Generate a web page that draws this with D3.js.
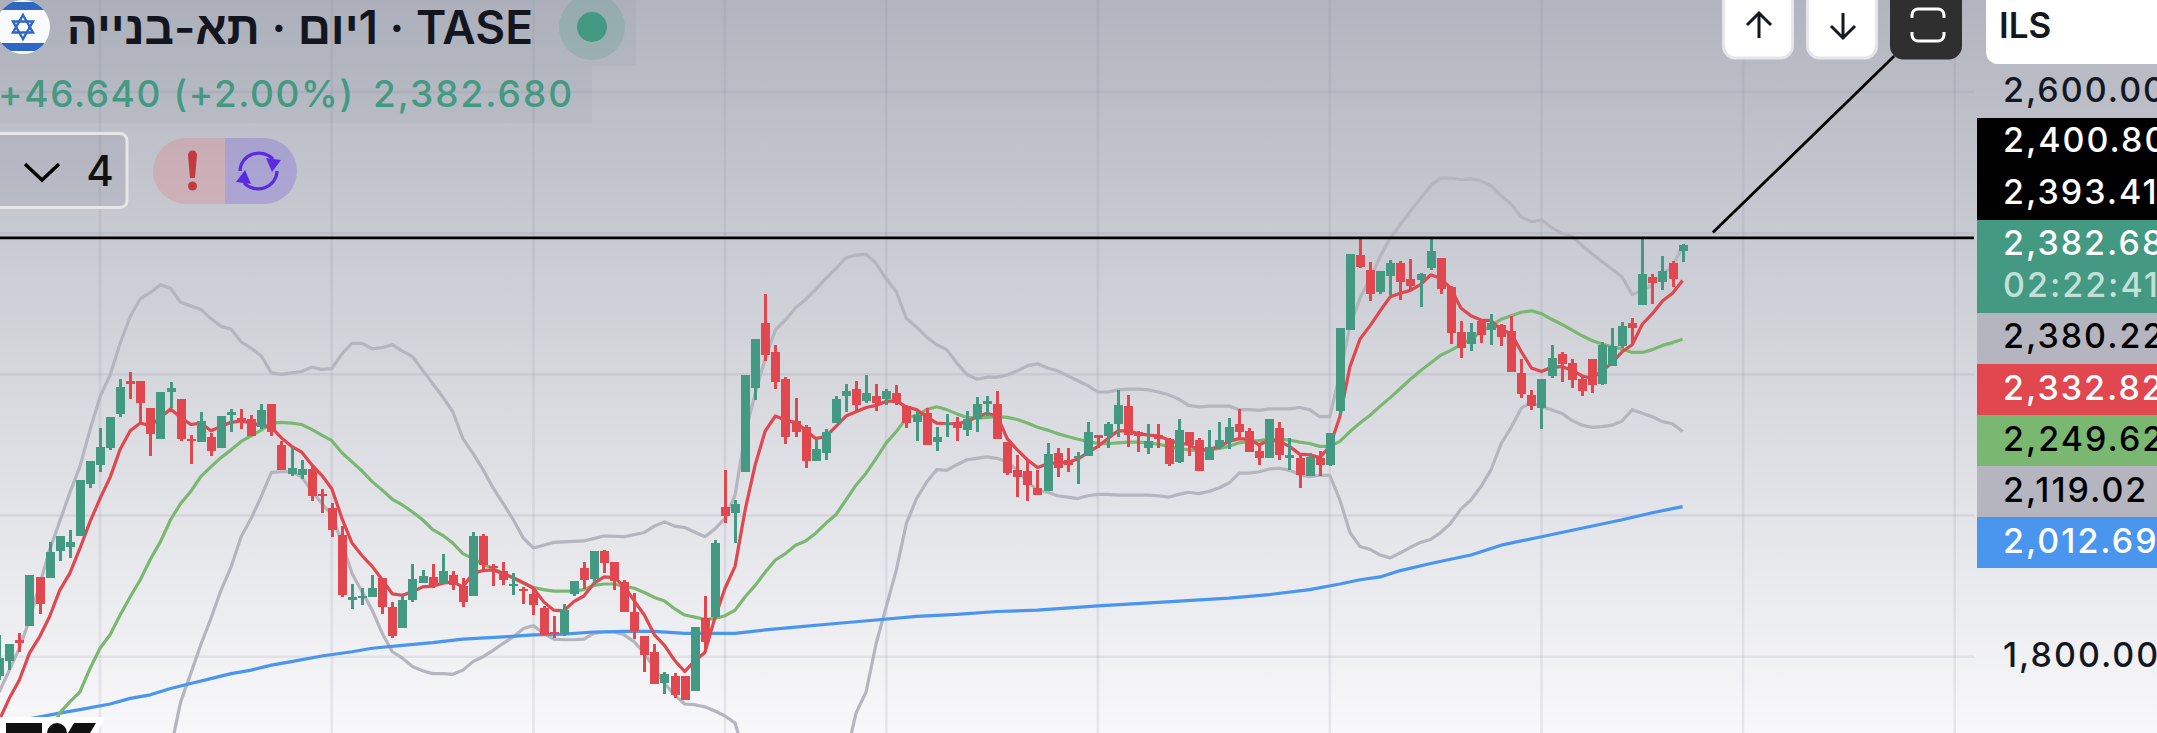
<!DOCTYPE html>
<html>
<head>
<meta charset="utf-8">
<title>TASE</title>
<script src="https://cdn.jsdelivr.net/npm/d3@7"></script>
<style>
    html, body { margin: 0; padding: 0; overflow: hidden; background: #f8f8fa; }
    svg { display: block; }
    text { font-family: Inter, "Liberation Sans", sans-serif; }
</style>
</head>
<body>
<svg id="chart"></svg>
<script>
// Daily candles (oldest first)
const opens = [
    1772,1794,1824,1843,1913,1912,1950,1955,1971,2045,
    2071,2095,2144,2190,2190,2153,2108,2175,2165,2108,
    2104,2111,2095,2143,2138,2137,2126,2158,2100,2059,
    2058,2066,2031,2010,1972,1880,1883,1884,1911,1870,
    1840,1881,1905,1913,1903,1916,1900,1886,1971,1928,
    1922,1900,1896,1889,1869,1835,1832,1889,1926,1910,
    1950,1934,1906,1864,1830,1807,1763,1773,1772,1751,
    1855,1856,2012,2003,2062,2181,2273,2231,2193,2134,
    2126,2077,2088,2131,2169,2179,2162,2170,2165,2173,
    2155,2132,2145,2104,2128,2132,2121,2137,2158,2158,
    2104,2064,2063,2039,2035,2089,2079,2082,2085,2114,
    2112,2129,2155,2119,2096,2114,2109,2076,2119,2107,
    2078,2097,2104,2129,2120,2091,2082,2124,2082,2082,
    2056,2082,2071,2148,2263,2369,2348,2316,2340,2358,
    2335,2334,2350,2365,2324,2260,2243,2275,2263,2270,
    2262,2202,2171,2153,2197,2229,2216,2194,2222,2187,
    2212,2240,2273,2298,2338,2331,2358,2375
];
const highs = [
    1831,1818,1833,1916,1913,1963,1971,1980,2051,2077,
    2124,2139,2193,2204,2190,2153,2175,2189,2165,2114,
    2147,2117,2141,2151,2151,2142,2158,2158,2106,2097,
    2079,2070,2038,2018,1985,1903,1897,1916,1911,1878,
    1886,1932,1923,1932,1946,1921,1911,1977,1974,1932,
    1934,1918,1899,1896,1872,1858,1874,1907,1934,1950,
    1951,1934,1909,1890,1830,1818,1778,1777,1773,1842,
    1886,1965,2064,2022,2199,2250,2314,2241,2196,2166,
    2128,2108,2122,2169,2186,2190,2199,2187,2179,2185,
    2156,2148,2152,2126,2144,2139,2148,2168,2170,2176,
    2104,2086,2077,2064,2103,2095,2095,2090,2133,2114,
    2133,2178,2171,2120,2129,2130,2110,2137,2119,2110,
    2121,2133,2138,2151,2124,2101,2137,2133,2110,2086,
    2089,2091,2117,2265,2371,2393,2359,2347,2362,2361,
    2364,2344,2393,2365,2325,2276,2273,2277,2286,2272,
    2282,2222,2178,2194,2242,2232,2222,2199,2222,2246,
    2265,2274,2280,2395,2342,2367,2361,2385
];
const lows = [
    1767,1781,1807,1843,1861,1912,1936,1940,1971,2039,
    2062,2093,2140,2165,2133,2084,2108,2153,2106,2073,
    2104,2085,2095,2118,2123,2113,2123,2113,2065,2056,
    2052,2021,2004,1970,1884,1868,1873,1884,1861,1826,
    1840,1878,1905,1897,1903,1895,1871,1886,1923,1900,
    1902,1888,1875,1859,1831,1827,1829,1886,1896,1902,
    1919,1894,1863,1825,1778,1762,1747,1741,1738,1751,
    1807,1856,1990,1961,2062,2163,2219,2179,2101,2111,
    2068,2077,2078,2131,2146,2148,2160,2148,2156,2156,
    2124,2105,2100,2092,2111,2105,2112,2119,2141,2109,
    2057,2026,2020,2029,2035,2055,2061,2045,2085,2096,
    2095,2111,2097,2090,2087,2096,2070,2075,2085,2063,
    2078,2094,2094,2107,2090,2072,2082,2079,2065,2039,
    2056,2056,2070,2143,2263,2351,2304,2314,2313,2306,
    2320,2296,2348,2314,2243,2223,2233,2245,2242,2240,
    2204,2167,2150,2123,2195,2189,2181,2170,2174,2185,
    2212,2237,2242,2298,2300,2320,2324,2359
];
const closes = [
    1798,1818,1820,1916,1875,1948,1971,1962,2051,2077,
    2097,2139,2182,2187,2160,2115,2175,2180,2109,2105,
    2134,2092,2141,2147,2134,2113,2150,2118,2065,2067,
    2066,2028,2027,1979,1887,1885,1886,1897,1871,1829,
    1881,1910,1915,1900,1922,1901,1878,1971,1930,1926,
    1908,1903,1894,1873,1831,1832,1866,1907,1908,1950,
    1933,1907,1863,1837,1803,1762,1776,1746,1738,1842,
    1821,1961,2000,2017,2199,2250,2227,2189,2111,2119,
    2077,2094,2118,2165,2176,2156,2173,2159,2176,2159,
    2131,2142,2100,2111,2131,2124,2137,2158,2162,2109,
    2060,2054,2043,2029,2087,2068,2072,2085,2119,2110,
    2130,2157,2114,2113,2106,2109,2073,2121,2100,2063,
    2097,2107,2126,2119,2090,2082,2137,2086,2086,2058,
    2083,2072,2117,2265,2371,2352,2314,2347,2358,2331,
    2325,2342,2375,2321,2259,2238,2260,2256,2273,2253,
    2204,2172,2155,2194,2223,2215,2192,2177,2185,2242,
    2240,2269,2265,2342,2330,2347,2335,2382.68
];

// Red fast average, one value per candle
const fastAvg = [
    1710,1741,1767,1805,1828,1857,1894,1918,1953,1991,
    2024,2054,2094,2120,2131,2127,2139,2151,2139,2129,
    2131,2120,2126,2132,2134,2131,2128,2125,2110,2098,
    2090,2072,2057,2038,1996,1961,1943,1928,1909,1889,
    1887,1892,1899,1900,1904,1906,1899,1918,1922,1923,
    1918,1912,1905,1897,1878,1866,1865,1878,1886,1904,
    1913,1912,1900,1879,1859,1831,1816,1795,1779,1794,
    1806,1855,1897,1928,2008,2072,2120,2141,2135,2132,
    2121,2109,2112,2126,2141,2147,2153,2156,2162,2162,
    2154,2150,2140,2131,2130,2130,2133,2140,2145,2141,
    2109,2093,2079,2068,2073,2075,2075,2080,2089,2098,
    2109,2120,2120,2116,2114,2113,2107,2102,2101,2092,
    2094,2097,2105,2109,2108,2100,2107,2105,2098,2087,
    2086,2082,2098,2140,2211,2250,2269,2290,2310,2315,
    2319,2327,2341,2336,2322,2294,2283,2277,2276,2263,
    2258,2232,2209,2204,2210,2211,2206,2198,2194,2205,
    2216,2232,2242,2271,2286,2304,2315,2332.82
];

// Green average starts at candle 5
const midStart = 5;
const midAvg = [
    1691,1720,1736,1750,1783,1812,1831,1859,1885,1909,1938,1963,1994,2017,2034,
    2055,2069,2082,2093,2105,2113,2121,2131,2132,2131,2129,2122,2114,2106,2089,
    2076,2063,2048,2036,2023,
    2015,2005,1994,1980,1972,1961,1946,1939,1931,1925,1918,1911,1904,1898,1895,
    1893,1893,1893,1895,1901,1903,1903,1900,1897,1891,1884,1879,1868,1859,1856,
    1853,1854,1858,1866,1885,1901,1920,1937,1946,1958,
    1964,1975,1989,2001,2022,2043,2060,2081,2103,2119,2138,2142,2150,2154,2150,
    2144,2139,2138,2139,2140,2139,2136,2131,2125,
    2121,2116,2112,2108,2105,2102,2102,2103,2104,2104,2103,2101,2098,2095,2093,
    2092,2093,2095,2098,2103,2105,2106,2108,2108,2107,2104,2102,2098,
    2098,2105,2119,2131,2142,2155,2167,2180,2193,2205,2216,2227,2234,2242,2250,
    2260,2269,2278,2283,2288,2290,2286,2278,2271,2263,2255,2248,2243,2239,2236,
    2231,2231,2235,2241,2245,2249.62
];

// Blue long average, read at every few candles
const slowIdx = [3,6,8,11,13,15,17,19,21,23,25,27,29,32,35,37,40,43,46,50,53,56,59,62,65,68,71,73,76,79,83,87,91,95,99,103,109,115,122,126,130,133,135,137,139,142,146,149,153,157,161,164,167];
const slowVal = [1712,1720,1725,1733,1741,1746,1755,1762,1769,1776,1781,1788,1793,1801,1807,1812,1816,1820,1825,1828,1831,1832,1835,1836,1836,1833,1833,1833,1838,1842,1847,1852,1857,1860,1864,1866,1872,1877,1883,1888,1895,1903,1909,1913,1922,1932,1944,1958,1970,1982,1994,2004,2012.69];

// Grey bands
const upperIdx = [0,2,3,5,7,8,9,10,11,12,13,14,15,16,17,18,19,20,21,22,23,24,25,26,27,28,29,30,31,32,33,34,35,36,37,38,39,40,41,42,43,44,45,46,47,48,49,50,51,52,53,54,55,58,60,62,64,65,66,67,68,70,71,72,73,74,75,76,77,78,79,80,81,82,83,84,85,86,87,88,89,90,91,92,93,94,95,96,97,98,99,100,101,102,103,104,105,106,107,108,109,110,111,112,113,114,115,116,117,118,119,120,121,122,123,124,125,126,127,128,129,130,131,132,133,134,135,136,137,138,139,140,141,142,143,144,145,146,147,148,149,150,151,152,153,154,155,156,157,158,159,160,161,162,163,164,165,166,167];
const upperVal = [1750,1812,1852,1951,2032,2069,2121,2168,2199,2244,2282,2307,2316,2327,2322,2302,2297,2292,2279,2268,2264,2246,2237,2226,2202,2200,2202,2204,2210,2207,2208,2229,2244,2244,2236,2238,2242,2233,2225,2206,2187,2168,2147,2109,2088,2065,2039,2017,1994,1968,1954,1958,1962,1964,1971,1970,1976,1985,1991,1985,1983,1970,1981,1996,2029,2116,2173,2223,2263,2277,2294,2306,2320,2336,2350,2365,2369,2370,2357,2335,2317,2279,2267,2253,2242,2235,2216,2200,2193,2196,2196,2199,2205,2212,2215,2209,2205,2198,2191,2184,2175,2175,2178,2179,2179,2178,2175,2171,2165,2156,2154,2155,2155,2155,2150,2150,2149,2151,2151,2151,2153,2150,2140,2140,2201,2268,2308,2336,2367,2393,2412,2431,2449,2467,2478,2478,2476,2477,2474,2467,2453,2441,2423,2416,2419,2408,2400,2395,2383,2371,2360,2349,2338,2313,2319,2327,2341,2354,2380.22];
const lowerIdx = [17,18,19,20,21,22,23,24,25,26,27,28,29,30,31,32,33,34,35,36,37,38,39,40,41,42,43,44,45,46,47,48,49,50,51,52,53,54,55,56,57,58,59,60,61,62,63,64,65,66,67,68,69,70,71,72,73,74,75,80,84,85,86,87,88,89,90,91,92,93,94,95,96,97,98,99,100,101,102,103,104,105,106,107,108,109,110,111,112,113,114,115,116,117,118,119,120,121,122,123,124,125,126,127,128,129,130,131,132,133,134,135,136,137,138,139,140,141,142,143,144,145,146,147,148,149,150,151,152,153,154,155,156,157,158,159,160,161,162,163,164,165,166,167];
const lowerVal = [1668,1736,1776,1817,1854,1894,1927,1970,1996,2027,2061,2062,2062,2055,2035,2017,2001,1961,1918,1892,1866,1833,1807,1798,1786,1780,1776,1776,1775,1781,1793,1800,1809,1819,1828,1840,1844,1833,1825,1824,1824,1825,1833,1835,1835,1831,1821,1805,1784,1762,1746,1733,1732,1729,1723,1716,1706,1658,1600,1500,1658,1720,1750,1819,1871,1923,1989,2024,2047,2065,2064,2072,2079,2081,2083,2081,2076,2064,2048,2036,2033,2028,2026,2024,2028,2030,2030,2029,2029,2029,2029,2028,2026,2030,2033,2031,2034,2039,2046,2060,2060,2062,2066,2067,2064,2058,2055,2057,2057,2022,1976,1956,1952,1944,1940,1947,1955,1962,1966,1976,1989,2009,2022,2041,2065,2102,2125,2152,2161,2154,2150,2145,2135,2128,2125,2126,2128,2134,2150,2145,2140,2133,2130,2119.02];

// Axis and grid
const gridPrices = [1800, 2000, 2200, 2400, 2600];
const axisPrices = [2600, 1800];
const gridCandles = [10, 33, 53, 72, 88, 109, 132, 153, 173, 194];
const axisTicks = ["2,600.00", "1,800.00"];

// Drawn lines: level line and a trend line running up under the buttons
const levelPrice = 2393.41;
const trendCandles = [170, 188];
const trendPrices = [2400.8, 2651];

// Price tags on the right
const tagLabels = ["2,400.80", "2,393.41", "2,382.68", "02:22:41", "2,380.22", "2,332.82", "2,249.62", "2,119.02", "2,012.69"];

const width = 2157;
const height = 733;
const plotRight = 1974;
const axisLeft = 1977;

const upColor = "#449983";
const downColor = "#e0474f";
const midColor = "#7ab872";
const greyColor = "#b4b5be";
const blueColor = "#4a95ee";
const inkColor = "#131722";

const x = d3.scaleLinear().domain([0, 167]).range([-0.8, 1682.6]);
const y = d3.scaleLinear().domain([1800, 2600]).range([656.7, 92]);

const svg = d3.select("#chart").attr("width", width).attr("height", height);

// Background gradient runs over the whole page
const defs = svg.append("defs");
const grad = defs.append("linearGradient")
    .attr("id", "bg").attr("x1", 0).attr("y1", 0).attr("x2", 0).attr("y2", 1);
grad.append("stop").attr("offset", 0).attr("stop-color", "#b2b5bf");
grad.append("stop").attr("offset", 1).attr("stop-color", "#f8f8fa");
defs.append("clipPath").attr("id", "plot")
    .append("rect").attr("width", plotRight).attr("height", height);

svg.append("rect").attr("width", width).attr("height", height).attr("fill", "url(#bg)");

const plot = svg.append("g").attr("clip-path", "url(#plot)");

// Grid
plot.selectAll(".gridH").data(gridPrices).enter().append("line")
    .attr("x1", 0).attr("x2", plotRight)
    .attr("y1", d => y(d)).attr("y2", d => y(d))
    .attr("stroke", "#7f8296").attr("stroke-opacity", 0.14).attr("stroke-width", 2.5);
plot.selectAll(".gridV").data(gridCandles).enter().append("line")
    .attr("x1", d => x(d)).attr("x2", d => x(d))
    .attr("y1", 0).attr("y2", height)
    .attr("stroke", "#7f8296").attr("stroke-opacity", 0.14).attr("stroke-width", 2.5);

// Indicator lines sit under the candles
const line = d3.line().x(d => x(d[0])).y(d => y(d[1]));
function drawLine(idx, vals, color) {
    plot.append("path")
        .attr("d", line(vals.map((v, i) => [idx[i], v])))
        .attr("fill", "none")
        .attr("stroke", color)
        .attr("stroke-width", 3.2)
        .attr("stroke-linejoin", "round");
}
drawLine(upperIdx, upperVal, greyColor);
drawLine(lowerIdx, lowerVal, greyColor);
drawLine(slowIdx, slowVal, blueColor);
drawLine(midAvg.map((v, i) => i + midStart), midAvg, midColor);
drawLine(fastAvg.map((v, i) => i), fastAvg, downColor);

// Candles
const candles = plot.selectAll(".candle").data(opens).enter().append("g")
    .attr("fill", (d, i) => closes[i] >= opens[i] ? upColor : downColor);
candles.append("rect")
    .attr("x", (d, i) => Math.round(x(i)) - 1.5)
    .attr("width", 3)
    .attr("y", (d, i) => y(highs[i]))
    .attr("height", (d, i) => y(lows[i]) - y(highs[i]))
    .attr("shape-rendering", "crispEdges");
candles.append("rect")
    .attr("x", (d, i) => Math.round(x(i)) - 4.5)
    .attr("width", 9)
    .attr("y", (d, i) => y(Math.max(opens[i], closes[i])))
    .attr("height", (d, i) => Math.max(2, y(Math.min(opens[i], closes[i])) - y(Math.max(opens[i], closes[i]))))
    .attr("shape-rendering", "crispEdges");

// Drawn level and trend lines
plot.append("line")
    .attr("x1", 0).attr("x2", plotRight)
    .attr("y1", y(levelPrice)).attr("y2", y(levelPrice))
    .attr("stroke", "#000").attr("stroke-width", 2.8);
plot.append("line")
    .attr("x1", x(trendCandles[0])).attr("x2", x(trendCandles[1]))
    .attr("y1", y(trendPrices[0])).attr("y2", y(trendPrices[1]))
    .attr("stroke", "#000").attr("stroke-width", 2.8);

// Price axis labels
svg.selectAll(".tick").data(axisPrices).enter().append("text")
    .attr("x", 2003)
    .attr("y", d => y(d) - 2)
    .attr("dy", ".36em")
    .attr("font-size", 34)
    .attr("font-weight", 500)
    .attr("letter-spacing", 2)
    .attr("fill", inkColor)
    .text((d, i) => axisTicks[i]);

// Tags, stacked from the top of the black block
const tagBlocks = [
    { top: 118, bottom: 220, fill: "#000" },
    { top: 220, bottom: 313, fill: upColor },
    { top: 313, bottom: 364, fill: greyColor },
    { top: 364, bottom: 415, fill: downColor },
    { top: 415, bottom: 466, fill: midColor },
    { top: 466, bottom: 517, fill: greyColor },
    { top: 517, bottom: 568, fill: blueColor }
];
svg.selectAll(".tag").data(tagBlocks).enter().append("rect")
    .attr("x", axisLeft).attr("width", width - axisLeft)
    .attr("y", d => d.top).attr("height", d => d.bottom - d.top)
    .attr("fill", d => d.fill);

const tagY = [140, 192, 243, 285, 336, 388, 438.5, 489.5, 540.5];
const tagInk = ["#fff", "#fff", "#fff", "#c3e0d8", "#000", "#fff", "#000", "#000", "#fff"];
svg.selectAll(".tagText").data(tagLabels).enter().append("text")
    .attr("x", 2003)
    .attr("y", (d, i) => tagY[i])
    .attr("dy", ".36em")
    .attr("font-size", 34)
    .attr("font-weight", 500)
    .attr("letter-spacing", 2)
    .attr("fill", (d, i) => tagInk[i])
    .text(d => d);

// Buttons on top
function button(bx, fill, edge) {
    svg.append("path")
        .attr("d", `M${bx},-4 h69 v50 a12,12 0 0 1 -12,12 h-45 a12,12 0 0 1 -12,-12 z`)
        .attr("fill", fill)
        .attr("stroke", edge)
        .attr("stroke-width", 3);
}
button(1723.5, "#fff", "#e6e6ea");
button(1807.5, "#fff", "#e6e6ea");
button(1891.5, "#2f2f2f", "#2f2f2f");

const arrowPaths = [
    "M1759,38 V13 M1747,25 L1759,13 L1771,25",
    "M1843,13 V38 M1831,26 L1843,38 L1855,26",
    "M1912,18 v-3 a6,6 0 0 1 6,-6 h20 a6,6 0 0 1 6,6 v3 M1912,32 v3 a6,6 0 0 0 6,6 h20 a6,6 0 0 0 6,-6 v-3"
];
const arrowInk = ["#131722", "#131722", "#fff"];
svg.selectAll(".arrow").data(arrowPaths).enter().append("path")
    .attr("d", d => d)
    .attr("fill", "none")
    .attr("stroke", (d, i) => arrowInk[i])
    .attr("stroke-width", 3);

svg.append("path")
    .attr("d", "M1986,0 h175 v64 h-163 a12,12 0 0 1 -12,-12 z")
    .attr("fill", "#fff");
svg.append("text")
    .attr("x", 1999).attr("y", 38)
    .attr("font-size", 35).attr("font-weight", 600)
    .attr("fill", "#131722")
    .text("ILS");

// Legend block top left
svg.append("rect").attr("width", 636).attr("height", 66).attr("fill", "#767a90").attr("opacity", 0.08);
svg.append("rect").attr("y", 66).attr("width", 592).attr("height", 57).attr("fill", "#767a90").attr("opacity", 0.08);

// Flag
const flag = svg.append("g");
defs.append("clipPath").attr("id", "flagClip").append("circle").attr("cx", 23).attr("cy", 27).attr("r", 27);
const flagBody = flag.append("g").attr("clip-path", "url(#flagClip)");
flagBody.append("rect").attr("x", -4).attr("y", 0).attr("width", 56).attr("height", 54).attr("fill", "#f9fafe");
flagBody.append("rect").attr("x", -4).attr("y", 2).attr("width", 56).attr("height", 8).attr("fill", "#2f67c4");
flagBody.append("rect").attr("x", -4).attr("y", 43).attr("width", 56).attr("height", 8).attr("fill", "#2f67c4");
["M23,15 L33,32.5 H13 Z", "M23,39 L13,21.5 H33 Z"].forEach(p => {
    flagBody.append("path").attr("d", p).attr("fill", "none").attr("stroke", "#2f67c4").attr("stroke-width", 2.4);
});

// Title, right-to-left as on the original. The RLM keeps the 1 from joining TASE
svg.append("text")
    .attr("x", 533).attr("y", 44)
    .attr("text-anchor", "end")
    .attr("font-size", 46)
    .attr("font-weight", 600)
    .attr("fill", "#14161f")
    .text("\u202BTASE · \u200F1יום · תא-בנייה\u202C");

svg.append("circle").attr("cx", 592).attr("cy", 27).attr("r", 33).attr("fill", upColor).attr("opacity", 0.22);
svg.append("circle").attr("cx", 592).attr("cy", 27).attr("r", 15).attr("fill", upColor);

// Change and last price
svg.append("text")
    .attr("x", -2).attr("y", 107)
    .attr("font-size", 37).attr("font-weight", 500)
    .attr("letter-spacing", 1.6)
    .attr("fill", upColor)
    .text("+46.640 (+2.00%)");
svg.append("text")
    .attr("x", 373).attr("y", 107)
    .attr("font-size", 37).attr("font-weight", 500)
    .attr("letter-spacing", 2)
    .attr("fill", upColor)
    .text("2,382.680");

// Collapse button
svg.append("rect")
    .attr("x", -8).attr("y", 133.5).attr("width", 135).attr("height", 74).attr("rx", 7)
    .attr("fill", "#7f8296").attr("fill-opacity", 0.18)
    .attr("stroke", "#e6e6ea").attr("stroke-width", 3);
svg.append("path").attr("d", "M25,164 L42,180 L59,164")
    .attr("fill", "none").attr("stroke", "#000").attr("stroke-width", 3.5);
svg.append("text").attr("x", 100).attr("y", 186)
    .attr("text-anchor", "middle")
    .attr("font-size", 42).attr("font-weight", 500)
    .attr("fill", "#111")
    .text("4");

// Status pill
svg.append("path").attr("d", "M225,138 H186 a33,33 0 0 0 0,66 H225 Z").attr("fill", "#e2767e").attr("opacity", 0.28);
svg.append("path").attr("d", "M225,138 H264 a33,33 0 0 1 0,66 H225 Z").attr("fill", "#6a4fe0").attr("opacity", 0.28);
svg.append("path").attr("d", "M188,155 a4.5,4.5 0 0 1 9,0 L195,178 h-5 Z").attr("fill", "#c23b42");
svg.append("circle").attr("cx", 192.5).attr("cy", 186).attr("r", 4.5).attr("fill", "#c23b42");
const syncPaths = ["M240,171 a19,18 0 0 1 33,-12", "M277,171 a19,18 0 0 1 -33,12"];
svg.selectAll(".sync").data(syncPaths).enter().append("path")
    .attr("d", d => d)
    .attr("fill", "none").attr("stroke", "#5b2be0").attr("stroke-width", 3.2);
svg.append("path").attr("d", "M281,160 L272,172 L266,158 Z").attr("fill", "#5b2be0");
svg.append("path").attr("d", "M236,182 L245,170 L251,184 Z").attr("fill", "#5b2be0");

// Watermark logo at the bottom left
svg.append("path").attr("d", "M0,717 H105 L97,733 H0 Z").attr("fill", "#fff");
svg.append("rect").attr("x", 6).attr("y", 723).attr("width", 36).attr("height", 10).attr("fill", "#111");
svg.append("circle").attr("cx", 57).attr("cy", 733).attr("r", 10).attr("fill", "#111");
svg.append("path").attr("d", "M74,723 H96 L90,733 H68 Z").attr("fill", "#111");
</script>
</body>
</html>
